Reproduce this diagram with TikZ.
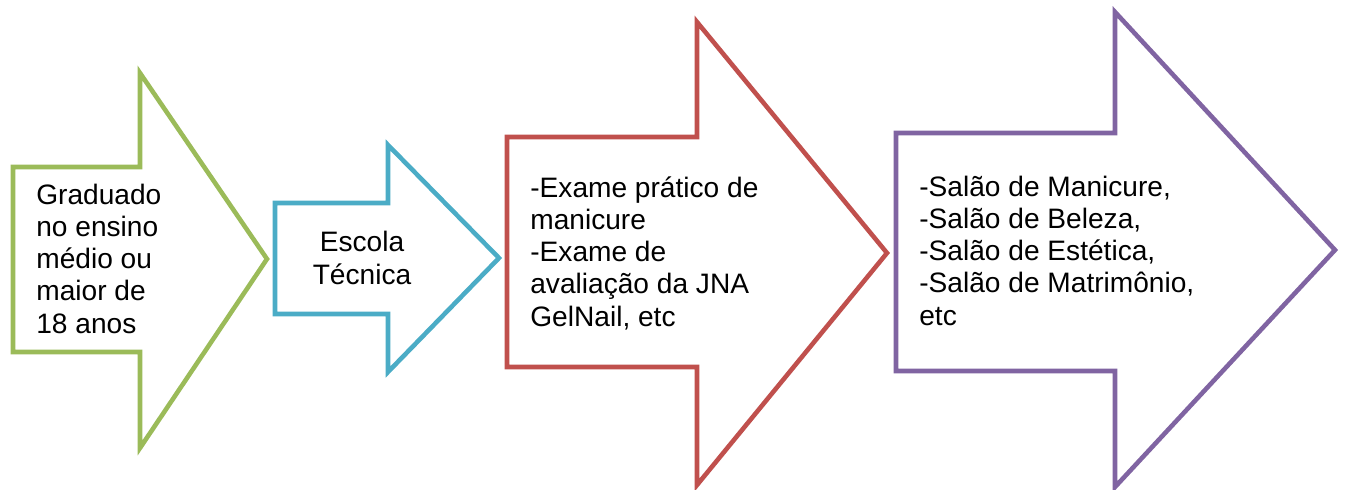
\documentclass[tikz,border=0pt]{standalone}
\usepackage{fontspec}
\setmainfont{Liberation Sans}
\definecolor{stagegreen}{RGB}{155,187,89}
\definecolor{stageblue}{RGB}{75,172,198}
\definecolor{stagered}{RGB}{192,80,77}
\definecolor{stagepurple}{RGB}{128,100,162}
\tikzset{
    stage/.style={line width=2.6pt, line join=miter, fill=white},
    stagetext/.style={font=\fontsize{16}{18.3}\selectfont, align=left, inner sep=0pt, anchor=base west}
}
\begin{document}
\begin{tikzpicture}[x=0.02cm, y=-0.02cm]
    \useasboundingbox (0,0) rectangle (1346,490);

    % Arrows
    \draw [stage, draw=stagegreen] (13,167) -- (140,167) -- (140,73) -- (267,259) -- (140,448) -- (140,352) -- (13,352) -- cycle;
    \draw [stage, draw=stageblue] (275,203) -- (388,203) -- (388,145) -- (499,258) -- (388,372) -- (388,314) -- (275,314) -- cycle;
    \draw [stage, draw=stagered] (507,137) -- (697,137) -- (697,22) -- (887,253) -- (697,485) -- (697,367) -- (507,367) -- cycle;
    \draw [stage, draw=stagepurple] (896,133) -- (1115,133) -- (1115,12) -- (1335,250) -- (1115,487) -- (1115,371) -- (896,371) -- cycle;

    % Texts (anchored at the last line)
    \node [stagetext] (grad) at (36,333) {Graduado\\no ensino\\médio ou\\maior de\\18 anos};
    \node [stagetext, anchor=base, align=center] (escola) at (362,284) {Escola\\Técnica};
    \node [stagetext] (exame) at (530,326) {-Exame prático de\\manicure\\-Exame de\\avaliação da JNA\\GelNail, etc};
    \node [stagetext] (salao) at (919,325) {-Salão de Manicure,\\-Salão de Beleza,\\-Salão de Estética,\\-Salão de Matrimônio,\\etc};
\end{tikzpicture}
\end{document}
